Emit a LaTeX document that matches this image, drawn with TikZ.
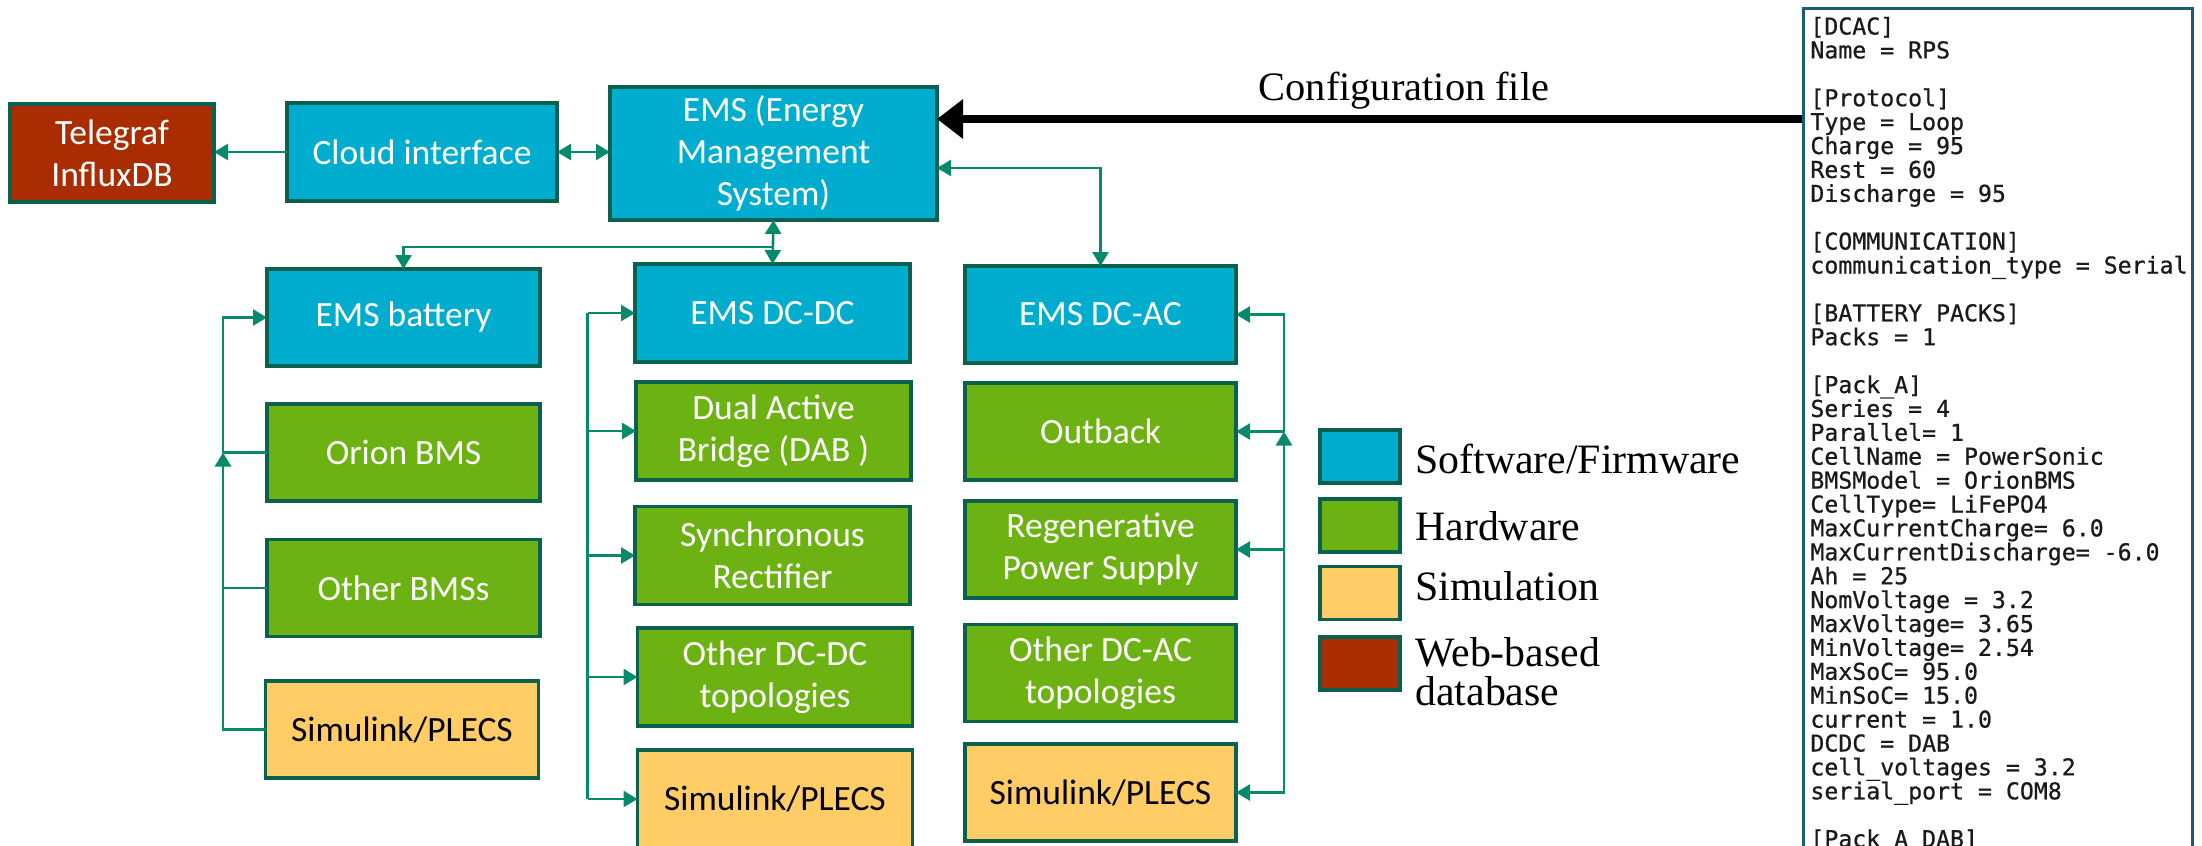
\documentclass[tikz,border=0pt]{standalone}
\usepackage{fontspec}
\usetikzlibrary{arrows.meta}
\newfontfamily\boxfont{Carlito}
\newfontfamily\legfont{Liberation Serif}
\newfontfamily\cfgfont[FakeBold=0.7]{DejaVu Sans Mono}
\definecolor{swblue}{HTML}{00ADCF}
\definecolor{hwgreen}{HTML}{6DB213}
\definecolor{simyellow}{HTML}{FFCC66}
\definecolor{dbred}{HTML}{A92D00}
\definecolor{edgegreen}{HTML}{0A614E}
\definecolor{linkgreen}{HTML}{078A6C}
\definecolor{cfgframe}{HTML}{1D5C78}
\definecolor{cfgink}{HTML}{1A1A1A}

\begin{document}
\begin{tikzpicture}[x=0.5pt,y=-0.5pt,
  >={Triangle[length=7pt,width=8pt]},
  block/.style={draw=edgegreen, line width=1.7pt, inner sep=0pt, outer sep=0pt,
    align=center, text=white, font={\boxfont\fontsize{17.75}{21}\selectfont}},
  sw/.style={block, fill=swblue},
  hw/.style={block, fill=hwgreen},
  sim/.style={block, fill=simyellow, text=black},
  db/.style={block, fill=dbred},
  colA/.style={minimum width=136.5pt, minimum height=48.5pt},
  colB/.style={minimum width=137.5pt, minimum height=49pt},
  colC/.style={minimum width=135.5pt, minimum height=48.5pt},
  legsq/.style={minimum width=40pt, minimum height=26.5pt},
  legtext/.style={anchor=base west, inner sep=0pt, font={\legfont\fontsize{20.9}{24}\selectfont}},
  cfgtext/.style={anchor=base west, inner sep=0pt, text=cfgink, font={\cfgfont\fontsize{11.6}{12}\selectfont}},
  link/.style={draw=linkgreen, line width=1.3pt},
]
\fill[white] (0,0) rectangle (2202,846);
\useasboundingbox (0,0) rectangle (2202,846);
\clip (0,0) rectangle (2202,846);

% top row
\node[db, minimum width=102pt, minimum height=49pt] (telegraf) at (112,153) {Telegraf\\InfluxDB};
\node[sw, minimum width=135pt, minimum height=49pt] (cloud) at (422,152) {Cloud interface};
\node[sw, minimum width=163.5pt, minimum height=66.5pt] (ems) at (773.5,153.5) {EMS (Energy\\Management\\System)};

% battery column
\node[sw, colA] (bat) at (403.5,317.5) {EMS battery};
\node[hw, colA] (orion) at (403.5,452.5) {Orion BMS};
\node[hw, colA] (other1) at (403.5,588) {Other BMSs};
\node[sim, colA] (sim1) at (402,729.5) {Simulink/PLECS};

% DC-DC column
\node[sw, colB] (dcdc) at (772.5,313) {EMS DC-DC};
\node[hw, colB] (dab) at (773.5,431) {Dual Active\\Bridge (DAB )};
\node[hw, colB] (sync) at (772.5,555.5) {Synchronous\\Rectifier};
\node[hw, colB] (other2) at (775,677) {Other DC-DC\\topologies};
\node[sim, colB] (sim2) at (775,799) {Simulink/PLECS};

% DC-AC column
\node[sw, colC] (dcac) at (1100.5,314.5) {EMS DC-AC};
\node[hw, colC] (outback) at (1100.5,431.5) {Outback};
\node[hw, colC] (regen) at (1100.5,549.5) {Regenerative\\Power Supply};
\node[hw, colC] (other3) at (1100.5,673) {Other DC-AC\\topologies};
\node[sim, colC] (sim3) at (1100.5,792.5) {Simulink/PLECS};

% legend
\node[sw, legsq] (leg1) at (1360,456.5) {};
\node[hw, legsq] (leg2) at (1360,525.5) {};
\node[sim, legsq] (leg3) at (1360,593) {};
\node[db, legsq] (leg4) at (1360,663.5) {};
\node[legtext] (legt1) at (1415,473) {Software/Firmware};
\node[legtext] (legt2) at (1415,540) {Hardware};
\node[legtext] (legt3) at (1415,600.5) {Simulation};
\node[legtext] (legt4a) at (1415,666) {Web-based};
\node[legtext] (legt4b) at (1415,705) {database};

% configuration file listing
\node[draw=cfgframe, line width=1.3pt, minimum width=194.5pt, minimum height=450pt,
  anchor=north west, inner sep=0pt] (cfg) at (1802,7) {};
\foreach \k/\t in {0/{[DCAC]}, 1/{Name = RPS},
  3/{[Protocol]}, 4/{Type = Loop}, 5/{Charge = 95}, 6/{Rest = 60}, 7/{Discharge = 95},
  9/{[COMMUNICATION]}, 10/{communication\_type = Serial},
  12/{[BATTERY PACKS]}, 13/{Packs = 1},
  15/{[Pack\_A]}, 16/{Series = 4}, 17/{Parallel= 1}, 18/{CellName = PowerSonic},
  19/{BMSModel = OrionBMS}, 20/{CellType= LiFePO4}, 21/{MaxCurrentCharge= 6.0},
  22/{MaxCurrentDischarge= -6.0}, 23/{Ah = 25}, 24/{NomVoltage = 3.2},
  25/{MaxVoltage= 3.65}, 26/{MinVoltage= 2.54}, 27/{MaxSoC= 95.0}, 28/{MinSoC= 15.0},
  29/{current = 1.0}, 30/{DCDC = DAB}, 31/{cell\_voltages = 3.2}, 32/{serial\_port = COM8},
  34/{[Pack\_A\_DAB]}}
  \node[cfgtext] (cfgl\k) at (1810,{34.5+23.9*\k}) {\t};

\coordinate (cfgport) at ([yshift=-56pt]cfg.north west);
\draw[line width=4pt, -{Triangle[length=13pt,width=19pt]}] (cfgport) -- (cfgport -| ems.east);
\node[anchor=base, inner sep=0pt, font={\legfont\fontsize{20.2}{24}\selectfont}] (cfglabel) at (1404,100) {Configuration file};

% links of the top row
\draw[link,->] (cloud.west) -- (cloud.west -| telegraf.east);
\draw[link,<->] (cloud.east) -- (cloud.east -| ems.west);
\draw[link,<->] (ems.south) -- (dcdc.north);
\draw[link,->] ([yshift=-13.5pt]ems.south) -| (bat.north);
\draw[link,<->] ([yshift=-7.25pt]ems.east) -| (dcac.north);

% battery column bus
\coordinate (bus1) at ([xshift=-22pt]orion.west);
\draw[link,->] (sim1.west) -| (bus1);
\draw[link] (other1.west) -- (other1.west -| bus1);
\draw[link] (orion.west) -- (bus1);
\draw[link,->] (bus1) |- (bat.west);

% DC-DC column bus
\coordinate (bus2) at ([xshift=-23.75pt]dcdc.west);
\draw[link] (bus2) -- (bus2 |- sim2.west);
\draw[link,->] (bus2) -- (dcdc.west);
\draw[link,->] (bus2 |- dab.west) -- (dab.west);
\draw[link,->] (bus2 |- sync.west) -- (sync.west);
\draw[link,->] (bus2 |- other2.west) -- (other2.west);
\draw[link,->] (bus2 |- sim2.west) -- (sim2.west);

% DC-AC column bus
\coordinate (bus3) at ([xshift=24pt]outback.east);
\draw[link,<->] (sim3.east) -| (bus3);
\draw[link,->] (bus3) -- (outback.east);
\draw[link,->] (bus3) |- (dcac.east);
\draw[link,->] (bus3 |- regen.east) -- (regen.east);
\end{tikzpicture}
\end{document}
